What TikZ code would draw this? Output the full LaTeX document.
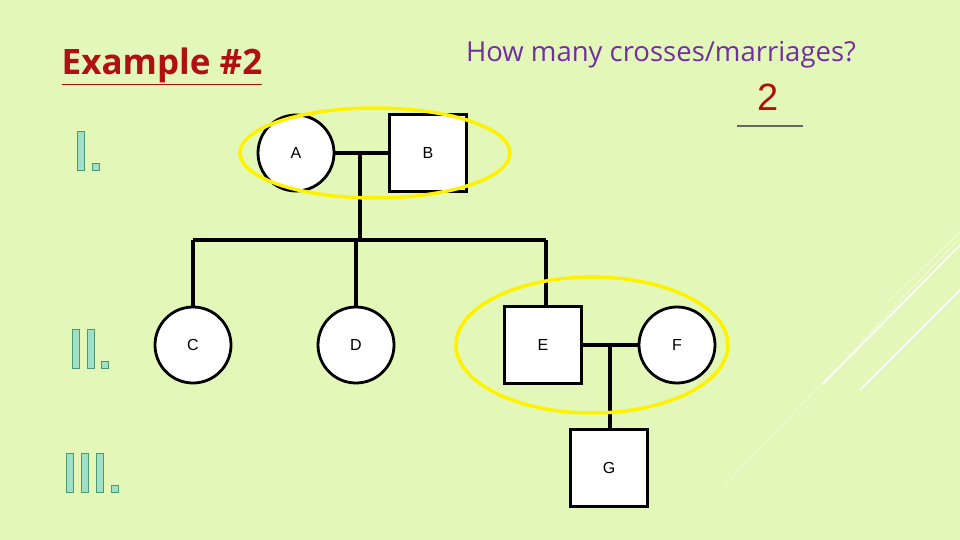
\documentclass[tikz,border=0pt]{standalone}
\usepackage{fontspec}
\setmainfont{Open Sans}
\newfontfamily\arialf{Liberation Sans}
\definecolor{bg}{HTML}{E3F8B8}
\definecolor{bar}{HTML}{A0E0C8}
\definecolor{barl}{HTML}{4A9A70}
\definecolor{dred}{HTML}{B01010}
\definecolor{purp}{HTML}{7030A0}
\begin{document}
\begin{tikzpicture}[x=1pt,y=-1pt,
  pers/.style={draw=black,line width=2.8pt,fill=white,inner sep=0pt,font=\arialf\fontsize{16}{16}\selectfont},
  fem/.style={pers,circle,minimum size=76pt},
  mal/.style={pers,rectangle,minimum size=77pt},
  ln/.style={line width=3.2pt},
  ring/.style={draw=yellow,line width=3.5pt},
  rb/.style={fill=bar,draw=barl,line width=0.6pt}]
\fill[bg] (0,0) rectangle (960,540);
\useasboundingbox (0,0) rectangle (960,540);
% decorative lines
\draw[white,line width=1.5pt] (823,384) -- (960,245);
\draw[white,line width=1.5pt] (860,390) -- (960,290);
\draw[white!60!bg,line width=0.6pt] (725,485) -- (960,238);
\draw[white!60!bg,line width=0.6pt] (888,302) -- (960,232);
% roman numerals
\draw[rb] (77,131) rectangle (84,170); \draw[rb] (92,163) rectangle (99,170);
\draw[rb] (72,329) rectangle (79,368); \draw[rb] (87,329) rectangle (94,368); \draw[rb] (101,361) rectangle (108,368);
\draw[rb] (66,453) rectangle (73,492); \draw[rb] (81,453) rectangle (88,492); \draw[rb] (96,453) rectangle (103,492); \draw[rb] (111,485) rectangle (118,492);
% texts
\node[text=dred,font=\bfseries\fontsize{35}{35}\selectfont] (title) at (162,66) {\underline{Example \#2}};
\node[text=purp,font=\fontsize{27.5}{28}\selectfont] (q) at (661,55) {How many crosses/marriages?};
\node[text=dred,font=\arialf\fontsize{38}{38}\selectfont] (ans) at (768,97) {2};
\coordinate (u1) at (737,126); \coordinate (u2) at (803,126);
\draw[black!60,line width=1.5pt] (u1) -- (u2);
% lines
\coordinate (ab) at (360,153); \coordinate (sib) at (360,240);
\coordinate (sl) at (193,240); \coordinate (sr) at (546,240);
\coordinate (ef) at (610,345);
\node[fem] (A) at (296,153) {A};
\node[mal] (B) at (428,153) {B};
\node[fem] (C) at (193,345) {C};
\node[fem] (D) at (356,345) {D};
\node[mal] (E) at (543,345) {E};
\node[fem] (F) at (677,345) {F};
\node[mal] (G) at (609,468) {G};
\draw[ln] (A) -- (B); \draw[ln] (ab) -- (sib);
\draw[ln] (sl) -- (sr);
\draw[ln] (sl) -- (C); \draw[ln] (356,240) -- (D); \draw[ln] (sr) -- (E.north -| sr);
\draw[ln] (E) -- (F); \draw[ln] (ef) -- (G.north -| ef);
\draw[ring] (375,153) ellipse [x radius=135, y radius=45];
\draw[ring] (592,345) ellipse [x radius=136, y radius=68];
\end{tikzpicture}
\end{document}
